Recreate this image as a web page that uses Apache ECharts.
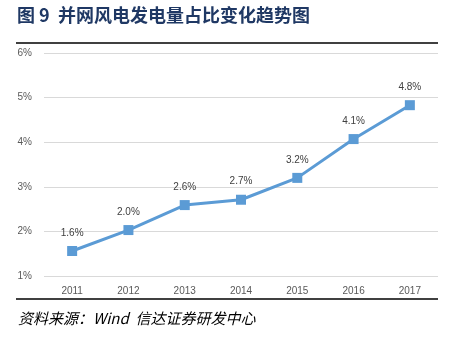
<!DOCTYPE html>
<html><head><meta charset="utf-8">
<script src="https://cdn.jsdelivr.net/npm/echarts@6/dist/echarts.min.js"></script>
<style>html,body{margin:0;padding:0;background:#fff}#c{width:470px;height:339px}</style>
</head><body><div id="c"></div>
<script>
var years = ['2011','2012','2013','2014','2015','2016','2017'];
var share = [1.56, 2.03, 2.59, 2.71, 3.2, 4.07, 4.83];
var yTicks = [1, 2, 3, 4, 5, 6];
var titleText = '图 9  并网风电发电量占比变化趋势图';
var sourceText = '资料来源：Wind  信达证券研发中心';

var chart = echarts.init(document.getElementById('c'));
chart.setOption({
  animation: false,
  grid: {left: 44, right: 32, top: 53, bottom: 63},
  xAxis: {
    type: 'category', data: years, boundaryGap: true,
    axisLine: {show: false}, axisTick: {show: false},
    axisLabel: {color: '#595959', fontSize: 10, fontFamily: 'Liberation Sans', margin: 10}
  },
  yAxis: {
    type: 'value', min: yTicks[0], max: yTicks[yTicks.length-1], interval: 1,
    axisLine: {show: false}, axisTick: {show: false},
    axisLabel: {color: '#595959', fontSize: 10, fontFamily: 'Liberation Sans', formatter: '{value}%', margin: 12},
    splitLine: {lineStyle: {color: '#D9D9D9', width: 1}}
  },
  series: [{
    type: 'line', data: share,
    symbol: 'rect', symbolSize: 10,
    lineStyle: {color: '#5B9BD5', width: 3},
    itemStyle: {color: '#5B9BD5'},
    label: {show: true, position: 'top', distance: 8, color: '#404040', fontSize: 10, fontFamily: 'Liberation Sans',
      formatter: function(p){ return p.value.toFixed(1) + '%'; }}
  }],
  graphic: [
    {type: 'text', left: 17, top: 6, style: {text: titleText, fill: '#1F3864', font: 'bold 18px "Noto Sans CJK SC"'}},
    {type: 'line', shape: {x1: 16, y1: 43, x2: 438, y2: 43}, style: {stroke: '#000', lineWidth: 1.5}},
    {type: 'line', shape: {x1: 16, y1: 299, x2: 438, y2: 299}, style: {stroke: '#000', lineWidth: 1.5}},
    {type: 'text', left: 18, top: 311, style: {text: sourceText, fill: '#000', font: 'italic 15px "Noto Sans CJK SC"'}}
  ]
});
</script></body></html>
